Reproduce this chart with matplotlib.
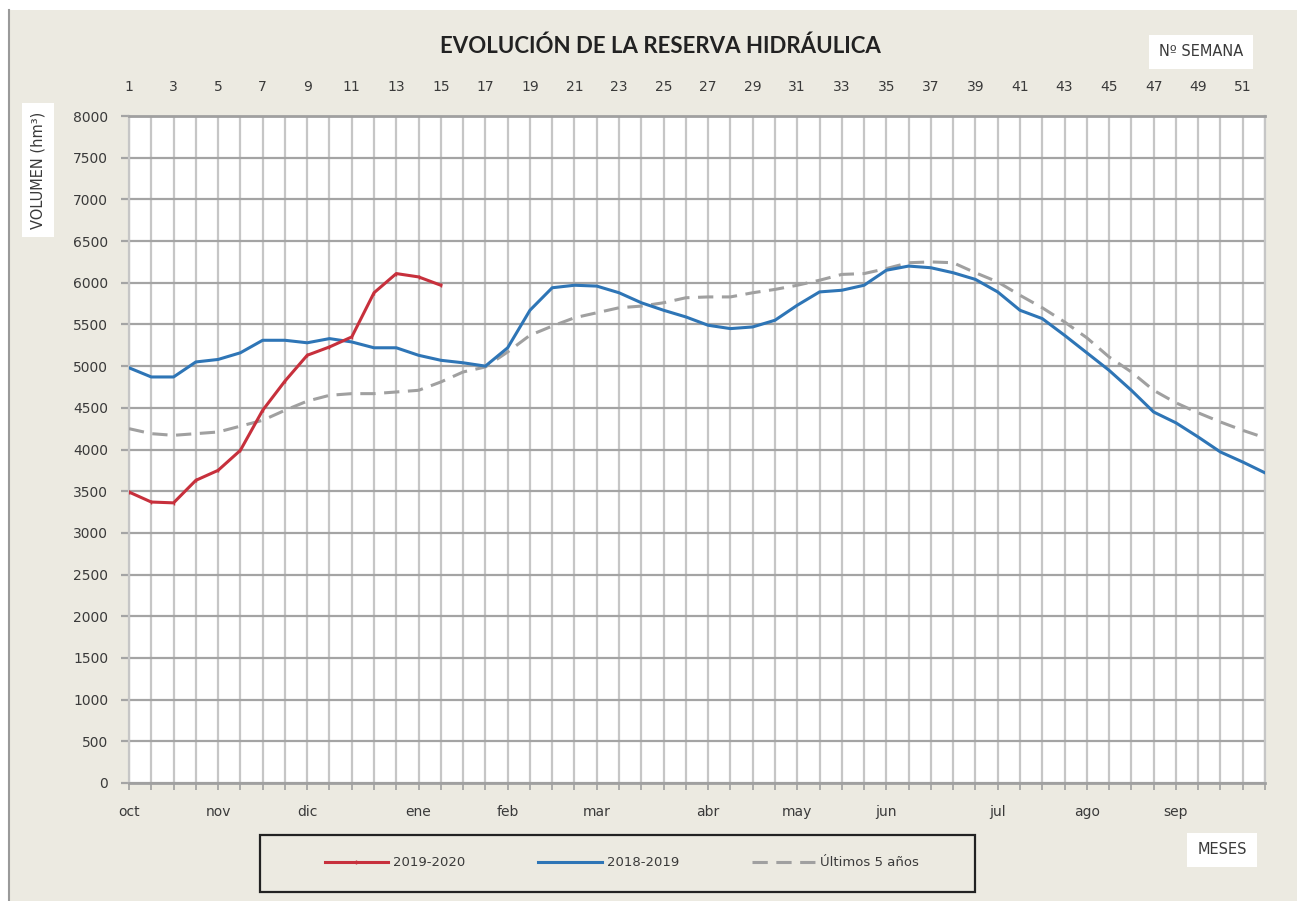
import matplotlib.pyplot as plt
from matplotlib.patches import Rectangle
from matplotlib.lines import Line2D

weeks = list(range(1, 53))
weeks_1920 = list(range(1, 16))
reserva_1920 = [3490, 3370, 3360, 3630, 3750, 3990, 4470, 4820, 5130, 5230,
                5350, 5880, 6110, 6070, 5970]
reserva_1819 = [4980, 4870, 4870, 5050, 5080, 5160, 5310, 5310, 5280, 5330,
                5290, 5220, 5220, 5130, 5070, 5040, 5000, 5220, 5670, 5940,
                5970, 5960, 5880, 5760, 5670, 5590, 5490, 5450, 5470, 5550,
                5730, 5890, 5910, 5970, 6150, 6200, 6180, 6120, 6040, 5890,
                5670, 5570, 5370, 5160, 4950, 4710, 4450, 4320, 4150, 3970,
                3850, 3720]
reserva_5anos = [4250, 4190, 4170, 4190, 4210, 4280, 4350, 4470, 4580, 4650,
                 4670, 4670, 4690, 4710, 4810, 4930, 4990, 5170, 5370, 5480,
                 5580, 5640, 5700, 5720, 5760, 5820, 5830, 5830, 5880, 5920,
                 5970, 6030, 6100, 6110, 6170, 6240, 6250, 6240, 6120, 6010,
                 5850, 5700, 5530, 5340, 5110, 4930, 4710, 4560, 4440, 4330,
                 4230, 4140]
month_labels = ['oct', 'nov', 'dic', 'ene', 'feb', 'mar', 'abr', 'may', 'jun',
                'jul', 'ago', 'sep']
month_weeks = [1, 5, 9, 14, 18, 22, 27, 31, 35, 40, 44, 48]

W, H = 1297, 901
bg = '#ECEAE1'
txt = '#3A3A3A'
c_red = '#C7303C'
c_blue = '#2E75B6'
c_gray = '#A0A0A0'


def fx(x):
    return x / W


def fy(y):
    return 1 - y / H


fig = plt.figure(figsize=(W / 100, H / 100), dpi=100, facecolor=bg)
# white margins + border
fig.add_artist(Rectangle((0, fy(10)), 1, 10 / H, transform=fig.transFigure,
                         facecolor='white', edgecolor='none', zorder=0))
fig.add_artist(Rectangle((0, 0), fx(8), 1, transform=fig.transFigure,
                         facecolor='white', edgecolor='none', zorder=0))
fig.add_artist(Line2D([fx(9), fx(9)], [0, fy(10)], transform=fig.transFigure,
                      color='#9A9A9A', lw=1.5))

ax = fig.add_axes([fx(129), fy(783), fx(1265) - fx(129), (783 - 116) / H])
ax.set_facecolor('white')

ax.plot(weeks, reserva_5anos, color=c_gray, lw=2.2, dashes=(5, 2.8),
        label='Últimos 5 años', zorder=3)
ax.plot(weeks, reserva_1819, color=c_blue, lw=2.2, label='2018-2019', zorder=4)
ax.plot(weeks_1920, reserva_1920, color=c_red, lw=2.2, marker='|', ms=3,
        label='2019-2020', zorder=5)

ax.set_xlim(1, 52)
ax.set_ylim(0, 8000)
ax.set_yticks(range(0, 8001, 500))
ax.set_xticks(weeks)
ax.set_xticklabels([])
ax.grid(axis='x', color='#C6C6C6', lw=1.6, zorder=1)
ax.grid(axis='y', color='#A4A4A4', lw=1.6, zorder=2)
ax.set_axisbelow(True)
ax.tick_params(axis='x', direction='out', length=5, width=1.2, color='#A0A0A0')
ax.tick_params(axis='y', direction='out', length=6, width=1.6, color='#A4A4A4',
               labelsize=10, labelcolor=txt, pad=9)
for s in ['top', 'bottom']:
    ax.spines[s].set_color('#A0A0A0')
    ax.spines[s].set_linewidth(2)
for s in ['left', 'right']:
    ax.spines[s].set_color('#C6C6C6')
    ax.spines[s].set_linewidth(1.6)

top = ax.secondary_xaxis('top')
top.set_xticks(range(1, 53, 2))
top.set_xticklabels([str(w) for w in range(1, 53, 2)])
top.tick_params(length=0, pad=16, labelsize=10, labelcolor=txt)
top.spines['top'].set_visible(False)

bot = ax.secondary_xaxis('bottom')
bot.set_xticks(month_weeks)
bot.set_xticklabels(month_labels)
bot.tick_params(length=0, pad=16, labelsize=10, labelcolor=txt)
bot.spines['bottom'].set_visible(False)

fig.text(fx(660), fy(46), 'EVOLUCIÓN DE LA RESERVA HIDRÁULICA', ha='center',
         va='center', fontsize=16, fontweight='bold', family='Lato', color='#222222')
fig.text(fx(38), fy(170), 'VOLUMEN (hm³)', rotation=90, ha='center', va='center',
         fontsize=10.5, color=txt,
         bbox=dict(facecolor='white', edgecolor='none', pad=6))
fig.text(fx(1201), fy(52), 'Nº SEMANA', ha='center', va='center', fontsize=10.5,
         color=txt, bbox=dict(facecolor='white', edgecolor='none', pad=7))
fig.text(fx(1222), fy(850), 'MESES', ha='center', va='center', fontsize=10.5,
         color=txt, bbox=dict(facecolor='white', edgecolor='none', pad=7))

# legend box
fig.add_artist(Rectangle((fx(260), fy(892)), fx(975) - fx(260), (892 - 835) / H,
                         transform=fig.transFigure, facecolor='none',
                         edgecolor='#222222', lw=1.6))
h, l = ax.get_legend_handles_labels()
order = [2, 1, 0]
fig.legend([h[i] for i in order], [l[i] for i in order], loc='center',
           bbox_to_anchor=(fx(622), fy(863)), ncol=3, frameon=False,
           fontsize=9.5, handlelength=4.8, columnspacing=5.5,
           handletextpad=0.4, labelcolor=txt)

fig.savefig('out.png', dpi=100, facecolor=bg)
